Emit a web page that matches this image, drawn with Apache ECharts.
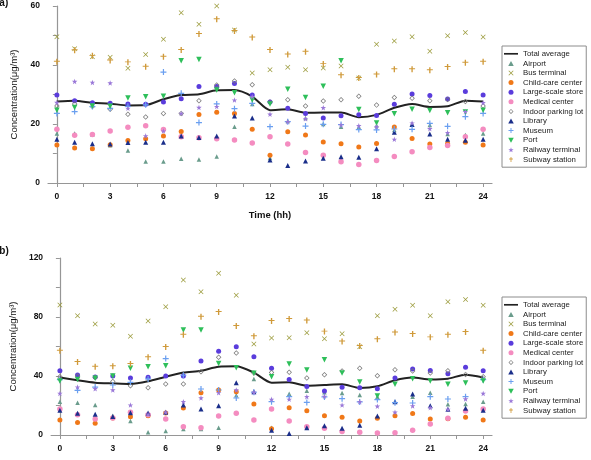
<!DOCTYPE html>
<html>
<head>
<meta charset="utf-8">
<script src="https://cdn.jsdelivr.net/npm/echarts@6/dist/echarts.min.js"></script>
<style>
  html, body { margin: 0; padding: 0; background: #fff; }
  #chart { width: 591px; height: 460px; }
</style>
</head>
<body>
<div id="chart"></div>
<script>
// hours of the day, 0 .. 24
const hours = [0, 1, 2, 3, 4, 5, 6, 7, 8, 9, 10, 11, 12, 13, 14, 15, 16, 17, 18, 19, 20, 21, 22, 23, 24];
const xTickValues = [0, 1.5, 3, 4.5, 6, 7.5, 9, 10.5, 12, 13.5, 15, 16.5, 18, 19.5, 21, 22.5, 24];
const xLabelValues = [0, 3, 6, 9, 12, 15, 18, 21, 24];
const names = ['Total average', 'Airport', 'Bus terminal', 'Child-care center', 'Large-scale store',
  'Medical center', 'Indoor parking lot', 'Library', 'Museum', 'Port', 'Railway terminal', 'Subway station'];

// panel (a)
const totalA   = [27.6, 27.9, 27.2, 26.9, 26.3, 26.4, 28.4, 29.8, 30.1, 31.4, 31.5, 29.3, 24.7, 25.0, 23.8, 23.9, 23.9, 22.3, 23.1, 25.5, 26.8, 25.8, 26.0, 27.9, 27.6];
const airportA = [16.8, 16.8, 16.4, 12.8, 11.0, 7.3, 7.3, 8.2, 8.0, 9.0, 19.1, 26.8, 8.5, 21.0, 22.0, 20.0, 19.1, 19.0, 19.5, 18.0, 20.0, 19.7, 16.6, 16.3, 16.8];
const busA     = [49.6, 45.5, 42.8, 42.6, 38.9, 43.6, 48.7, 57.7, 53.8, 60.0, 51.9, 37.3, 38.4, 39.2, 38.4, 39.0, 39.7, 35.6, 47.0, 48.1, 49.6, 44.7, 49.9, 51.0, 49.5];
const childA   = [12.9, 11.9, 11.6, 13.0, 14.4, 15.0, 15.9, 17.5, 23.2, 24.0, 23.6, 18.2, 9.4, 17.4, 16.3, 13.9, 13.3, 12.2, 13.4, 19.0, 15.1, 13.2, 13.4, 13.8, 12.9];
const storeA   = [29.8, 27.9, 27.2, 27.0, 26.8, 26.7, 27.5, 28.6, 32.7, 32.7, 33.7, 29.8, 27.5, 25.3, 23.6, 22.0, 22.8, 23.1, 22.9, 26.7, 30.2, 29.7, 28.5, 31.0, 29.8];
const medicalA = [18.2, 16.2, 16.4, 17.6, 18.9, 19.4, 18.1, 15.7, 15.3, 15.0, 14.6, 13.6, 15.7, 13.2, 10.3, 9.4, 7.2, 6.3, 7.6, 9.0, 10.6, 12.0, 12.7, 15.7, 18.2];
const parkingA = [26.1, 26.8, 25.9, 25.0, 23.3, 22.4, 23.6, 23.6, 27.9, 33.2, 34.6, 33.3, 27.5, 28.2, 26.1, 27.8, 28.2, 29.4, 26.4, 29.0, 28.7, 27.9, 28.3, 27.6, 26.1];
const libraryA = [14.8, 13.8, 13.3, 13.2, 13.7, 13.8, 13.8, 15.9, 15.4, 15.9, 22.7, 22.0, 7.8, 5.9, 7.5, 8.4, 8.9, 8.7, 11.6, 17.2, 19.8, 16.6, 14.8, 14.5, 14.8];
const museumA  = [23.6, 24.2, 25.9, 25.3, 26.0, 26.5, 37.6, 30.4, 20.5, 26.8, 25.2, 27.0, 19.1, 20.8, 19.3, 19.9, 19.8, 18.1, 18.0, 18.3, 18.2, 20.2, 19.2, 22.5, 23.6];
const portA    = [24.7, 25.6, 26.1, 26.0, 28.8, 29.2, 29.4, 41.4, 41.9, 31.5, 30.6, 28.1, 26.8, 31.8, 29.0, 32.8, 41.4, 24.9, 20.3, 23.5, 25.0, 24.6, 23.8, 24.1, 24.7];
const railA    = [27.3, 34.4, 34.1, 33.9, 25.3, 16.0, 17.6, 23.6, 25.6, 25.9, 28.1, 29.3, 23.3, 20.8, 21.8, 25.5, 19.7, 19.4, 19.1, 14.8, 20.3, 18.4, 17.1, 24.2, 27.2];
const subwayA  = [41.1, 45.0, 43.1, 41.5, 40.9, 39.4, 42.8, 45.1, 50.5, 55.5, 51.5, 49.3, 45.1, 43.6, 44.5, 40.3, 36.5, 35.6, 36.8, 38.6, 38.6, 38.2, 39.3, 40.8, 41.1];

// panel (b)
const totalB   = [39.0, 37.1, 35.5, 35.0, 34.6, 36.4, 39.5, 42.3, 43.6, 46.3, 46.6, 42.3, 35.5, 35.7, 33.4, 33.9, 34.4, 31.9, 33.0, 37.1, 38.9, 37.7, 38.2, 40.9, 39.0];
const airportB = [22.6, 21.9, 20.3, 13.1, 9.5, 1.8, 2.7, 4.1, 4.1, 5.0, 27.0, 38.0, 5.0, 28.0, 30.0, 29.0, 28.4, 27.1, 26.0, 22.6, 26.0, 28.7, 20.8, 21.0, 22.6];
const busB     = [88.1, 80.9, 75.3, 74.4, 66.9, 77.3, 87.0, 105.1, 97.2, 109.6, 94.7, 61.7, 65.8, 66.0, 69.4, 65.3, 68.6, 59.9, 80.9, 85.2, 87.9, 80.9, 90.4, 91.8, 88.0];
const childB   = [10.2, 8.4, 7.9, 11.5, 12.4, 13.0, 15.0, 18.3, 28.7, 30.5, 29.4, 21.0, 4.3, 18.5, 16.5, 13.1, 12.0, 9.5, 11.4, 13.0, 14.5, 10.8, 11.0, 12.0, 10.2];
const storeB   = [43.6, 40.7, 39.3, 40.0, 38.6, 39.1, 40.0, 40.0, 50.2, 56.7, 59.9, 53.1, 45.2, 37.7, 32.8, 29.8, 32.3, 32.1, 31.4, 38.6, 44.7, 43.8, 41.6, 45.9, 43.6];
const medicalB = [17.6, 13.8, 10.8, 11.5, 15.4, 13.8, 10.8, 5.6, 5.0, 12.9, 14.7, 10.2, 17.6, 9.5, 5.6, 4.5, 2.3, 1.8, 1.4, 1.6, 3.2, 7.5, 11.3, 16.3, 17.6];
const parkingB = [39.5, 40.0, 39.0, 36.2, 33.4, 32.1, 34.6, 34.6, 42.9, 52.7, 55.6, 42.0, 42.3, 42.5, 38.6, 40.8, 43.4, 45.2, 40.1, 44.2, 43.4, 42.0, 43.6, 41.1, 39.5];
const libraryB = [16.7, 14.7, 14.0, 12.5, 15.1, 14.9, 15.5, 20.3, 17.6, 19.9, 35.5, 29.4, 3.2, 1.1, 5.0, 6.3, 4.5, 6.6, 12.9, 22.6, 27.8, 19.9, 17.5, 18.1, 16.7];
const museumB  = [37.5, 30.3, 32.5, 33.9, 35.7, 38.0, 51.8, 40.5, 31.2, 30.5, 25.1, 29.0, 22.6, 26.0, 22.1, 25.8, 24.6, 22.4, 24.0, 21.9, 21.7, 26.0, 24.4, 26.0, 37.5];
const portB    = [36.6, 37.7, 38.5, 40.0, 45.2, 46.3, 47.0, 71.2, 71.2, 48.4, 45.6, 41.8, 39.5, 48.1, 44.1, 51.1, 42.0, 35.9, 26.4, 34.4, 38.2, 36.6, 34.4, 35.3, 36.6];
const railB    = [28.2, 32.5, 31.4, 30.5, 20.3, 14.0, 15.4, 22.6, 25.1, 28.7, 30.5, 29.0, 24.2, 24.2, 26.0, 26.2, 20.3, 22.6, 19.5, 15.4, 19.7, 18.5, 17.4, 24.4, 28.2];
const subwayB  = [57.2, 49.5, 46.3, 46.6, 48.1, 52.7, 59.7, 68.0, 80.2, 83.4, 73.9, 66.9, 77.3, 78.6, 77.7, 70.1, 63.4, 60.3, 64.9, 69.5, 68.5, 66.2, 68.0, 69.8, 57.2];

// marker shapes (paths keep their aspect in the legend)
const TRI_UP = 'path://M5,0L10,9L0,9Z';
const TRI_DOWN = 'path://M0,0L10,0L5,9Z';
const X_PATH = 'path://M0,1L1,0L5,4L9,0L10,1L6,5L10,9L9,10L5,6L1,10L0,9L4,5Z';
const PLUS_PATH = 'path://M4,0H6V4H10V6H6V10H4V6H0V4H4Z';
const DAGGER_PATH = 'path://M4.2,0H5.8V3.4H8.6V5H5.8V10H4.2V5H1.4V3.4H4.2Z';
const STAR_PATH = 'path://M5,0L6.2,3.6L10,3.6L7,5.9L8.1,9.5L5,7.3L1.9,9.5L3,5.9L0,3.6L3.8,3.6Z';
const DIAMOND_RING = 'path://M5,0L10,5L5,10L0,5Z M5,1.8L1.8,5L5,8.2L8.2,5Z';
const LINE_ICON = 'path://M0,0H20V2.4H0Z';
const looks = [
  { symbol: TRI_UP, size: 4.5, color: '#6a9c8c' },
  { symbol: X_PATH, size: 5, color: '#9a9a3a' },
  { symbol: 'circle', size: 5, color: '#f07818' },
  { symbol: 'circle', size: 5, color: '#5a3cdc' },
  { symbol: 'circle', size: 5.5, color: '#f48cc0' },
  { symbol: DIAMOND_RING, size: 5.5, color: '#777777' },
  { symbol: TRI_UP, size: 5, color: '#1a2e8a' },
  { symbol: PLUS_PATH, size: 6, color: '#6a9ff0' },
  { symbol: TRI_DOWN, size: 5.5, color: '#2ebf5a' },
  { symbol: STAR_PATH, size: 5.5, color: '#9a78d8' },
  { symbol: DAGGER_PATH, size: 6, color: '#d09a3a' }
];

const panelA = [airportA, busA, childA, storeA, medicalA, parkingA, libraryA, museumA, portA, railA, subwayA];
const panelB = [airportB, busB, childB, storeB, medicalB, parkingB, libraryB, museumB, portB, railB, subwayB];

function pairs(values) {
  return hours.map((h, i) => [h, values[i]]);
}

function panelSeries(total, groups, idx) {
  const list = [{
    name: names[0], type: 'line', xAxisIndex: idx, yAxisIndex: idx,
    data: pairs(total), symbol: 'none', smooth: 0.25, z: 1,
    lineStyle: { color: '#222', width: 2 }, itemStyle: { color: '#222' }
  }];
  groups.forEach((vals, k) => {
    const lk = looks[k];
    list.push({
      name: names[k + 1], type: 'scatter', xAxisIndex: idx, yAxisIndex: idx,
      data: pairs(vals), symbol: lk.symbol, symbolSize: lk.size, z: 3,
      itemStyle: { color: lk.color, opacity: 1 }
    });
  });
  return list;
}

const axisGray = '#969696';
const labelFont = { fontFamily: 'Liberation Sans, Arial', fontSize: 8.5, fontWeight: 'bold', color: '#111' };

function xAxisFor(idx, withName) {
  return {
    type: 'value', gridIndex: idx, min: -0.5, max: 24.5,
    name: withName ? 'Time (hh)' : '', nameLocation: 'middle', nameGap: 27,
    nameTextStyle: { fontFamily: 'Liberation Sans, Arial', fontSize: 9.5, fontWeight: 'bold', color: '#111' },
    axisLine: { show: true, lineStyle: { color: axisGray, width: 1.2 } },
    axisTick: { show: true, length: 4, customValues: xTickValues, lineStyle: { color: axisGray } },
    axisLabel: Object.assign({ customValues: xLabelValues, margin: 9 }, labelFont),
    splitLine: { show: false }
  };
}

function yAxisFor(idx, max, step, labelStep) {
  return {
    type: 'value', gridIndex: idx, min: 0, max: max, interval: step,
    name: 'Concentration(μg/m³)', nameLocation: 'middle', nameGap: 23, nameRotate: 90,
    nameTextStyle: { fontFamily: 'Liberation Sans, Arial', fontSize: 9.5, color: '#111' },
    axisLine: { show: true, lineStyle: { color: axisGray, width: 1.2 } },
    axisTick: { show: true, length: 4, lineStyle: { color: axisGray } },
    axisLabel: Object.assign({
      margin: 8,
      formatter: v => (v % labelStep === 0 ? String(v) : '')
    }, labelFont),
    splitLine: { show: false }
  };
}

function legendFor(top) {
  return {
    orient: 'vertical', left: 502, top: top,
    data: names.map((n, i) => (i === 0 ? { name: n, icon: LINE_ICON } : n)),
    backgroundColor: '#fff',
    borderColor: '#8c8c8c', borderWidth: 1, borderRadius: 0,
    padding: [3, 3, 3, 2],
    itemWidth: 14, itemHeight: 5, itemGap: 0,
    symbolKeepAspect: true,
    textStyle: { fontFamily: 'Liberation Sans, Arial', fontSize: 7.8, lineHeight: 9.6, color: '#222' }
  };
}

const chart = echarts.init(document.getElementById('chart'), null, { renderer: 'canvas' });
chart.setOption({
  animation: false,
  backgroundColor: '#fff',
  title: [
    { text: '(a)', left: -9, top: -7, textStyle: { fontSize: 10, fontWeight: 'bold', color: '#111' } },
    { text: '(b)', left: -9, top: 241, textStyle: { fontSize: 10, fontWeight: 'bold', color: '#111' } }
  ],
  grid: [
    { left: 48, top: 6, width: 444, height: 177 },
    { left: 48, top: 258, width: 444, height: 177 }
  ],
  xAxis: [xAxisFor(0, true), xAxisFor(1, false)],
  yAxis: [yAxisFor(0, 60, 10, 20), yAxisFor(1, 120, 20, 40)],
  legend: [legendFor(46), legendFor(297)],
  series: panelSeries(totalA, panelA, 0).concat(panelSeries(totalB, panelB, 1))
});
</script>
</body>
</html>
